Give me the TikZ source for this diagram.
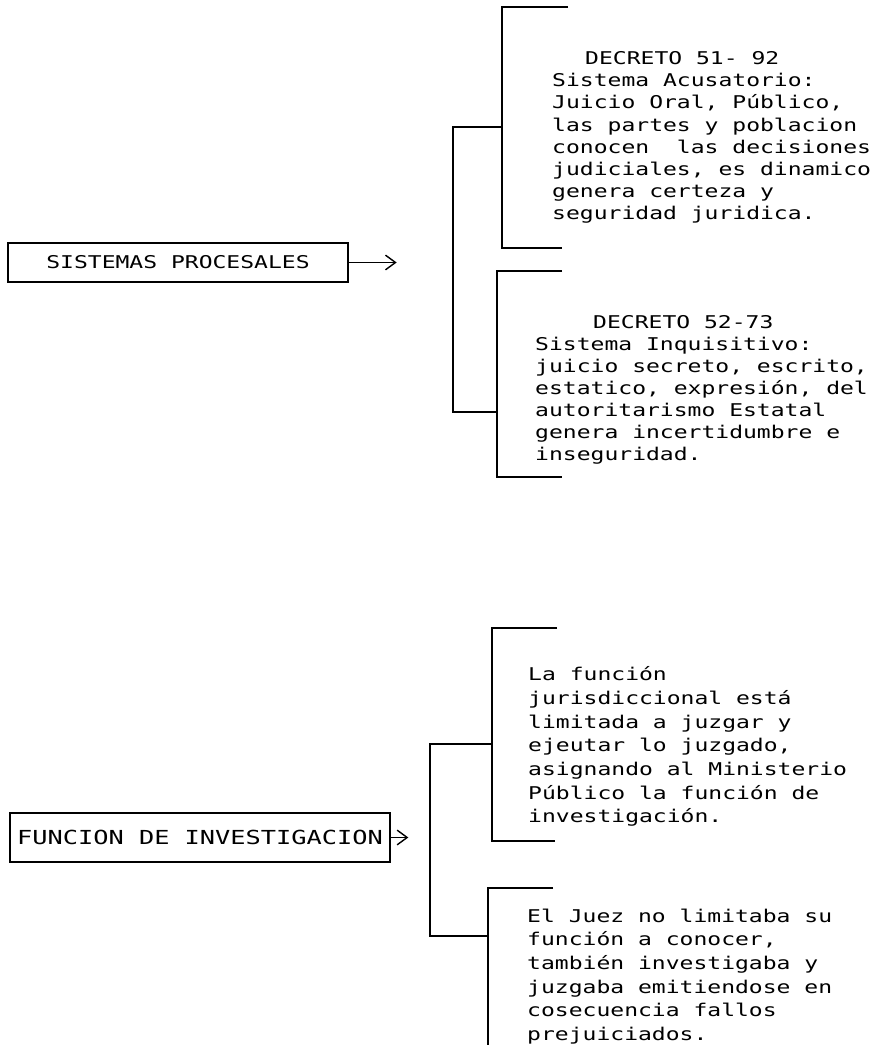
\documentclass[tikz,border=0pt]{standalone}
\usepackage{fontspec}
\newfontfamily\dotfont[FakeStretch=1.31]{DejaVu Sans Mono}
\usetikzlibrary{arrows.meta}

\tikzset{
  caja/.style={draw, line width=1.2pt, inner sep=0pt, font=\dotfont\fontsize{15pt}{18pt}\selectfont},
  nota/.style={anchor=north west, align=left, inner sep=0pt, font=\dotfont\fontsize{15pt}{18.8pt}\selectfont},
  notabaja/.style={nota, font=\dotfont\fontsize{15pt}{20.2pt}\selectfont},
  llave/.style={line width=1.8pt},
  flecha/.style={line width=1.2pt, -{Straight Barb[length=0.3cm, width=0.44cm, line width=1.2pt]}}
}

\begin{document}
\begin{tikzpicture}
\useasboundingbox (0,0) rectangle (26.28,31.5);

% sistemas procesales
\node (sistemas) at (5.34,23.625) [caja, minimum width=10.2cm, minimum height=1.17cm] {SISTEMAS PROCESALES};
\coordinate (puntaA) at (11.9,23.625);
\draw [flecha] (sistemas.east) -- (puntaA);

\draw [llave] (15.06,27.69) -- (13.59,27.69) -- (13.59,19.14) -- (14.91,19.14);
\draw [llave] (17.04,31.29) -- (15.06,31.29) -- (15.06,24.06) -- (16.86,24.06);
\draw [llave] (16.86,23.37) -- (14.91,23.37) -- (14.91,17.19) -- (16.86,17.19);

\node (acusatorio) at (16.56,29.95) [nota] {\hspace*{0.99cm}DECRETO 51- 92\\
Sistema Acusatorio:\\
Juicio Oral, Público,\\
las partes y poblacion\\
conocen\ \ las decisiones\\
judiciales, es dinamico\\
genera certeza y\\
seguridad juridica.};

\node (inquisitivo) at (16.05,22.05) [nota] {\hspace*{1.74cm}DECRETO 52-73\\
Sistema Inquisitivo:\\
juicio secreto, escrito,\\
estatico, expresión, del\\
autoritarismo Estatal\\
genera incertidumbre e\\
inseguridad.};

% funcion de investigacion
\node (funcion) at (6.0,6.375) [caja, minimum width=11.4cm, minimum height=1.47cm, font=\dotfont\fontsize{16.5pt}{18pt}\selectfont] {FUNCION DE INVESTIGACION};
\coordinate (puntaB) at (12.25,6.375);
\draw [flecha] (funcion.east) -- (puntaB);

\draw [llave] (14.76,9.18) -- (12.9,9.18) -- (12.9,3.42) -- (14.64,3.42);
\draw [llave] (16.71,12.66) -- (14.76,12.66) -- (14.76,6.27) -- (16.65,6.27);
\draw [llave] (16.59,4.86) -- (14.64,4.86) -- (14.64,0.15);

\node (jurisdiccion) at (15.84,11.5) [notabaja] {La función\\
jurisdiccional está\\
limitada a juzgar y\\
ejeutar lo juzgado,\\
asignando al Ministerio\\
Público la función de\\
investigación.};

\node (juez) at (15.81,4.25) [notabaja] {El Juez no limitaba su\\
función a conocer,\\
también investigaba y\\
juzgaba emitiendose en\\
cosecuencia fallos\\
prejuiciados.};
\end{tikzpicture}
\end{document}
